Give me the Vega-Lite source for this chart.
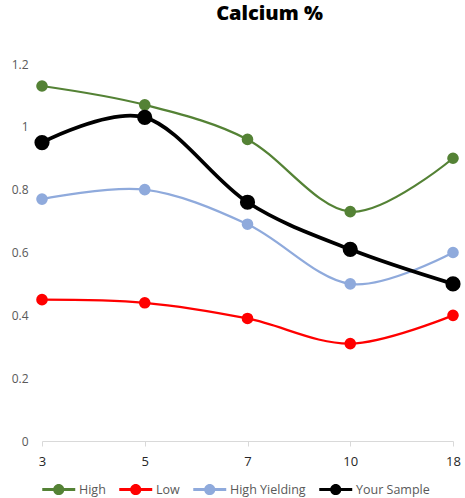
{
  "$schema": "https://vega.github.io/schema/vega-lite/v6.json",
  "width": 411,
  "height": 377,
  "autosize": {"type": "none"},
  "padding": {"left": 42, "top": 64, "right": 12, "bottom": 57},
  "background": "white",
  "title": {
    "text": "Calcium %",
    "font": "Open Sans",
    "fontSize": 20,
    "fontWeight": 800,
    "color": "#000000",
    "anchor": "middle",
    "dx": 22,
    "offset": 34
  },
  "config": {
    "view": {"stroke": null},
    "font": "Open Sans"
  },
  "data": {
    "values": [
      {"dap": "3", "series": "High", "value": 1.13},
      {"dap": "5", "series": "High", "value": 1.07},
      {"dap": "7", "series": "High", "value": 0.96},
      {"dap": "10", "series": "High", "value": 0.73},
      {"dap": "18", "series": "High", "value": 0.9},
      {"dap": "3", "series": "Low", "value": 0.45},
      {"dap": "5", "series": "Low", "value": 0.44},
      {"dap": "7", "series": "Low", "value": 0.39},
      {"dap": "10", "series": "Low", "value": 0.31},
      {"dap": "18", "series": "Low", "value": 0.4},
      {"dap": "3", "series": "High Yielding", "value": 0.77},
      {"dap": "5", "series": "High Yielding", "value": 0.8},
      {"dap": "7", "series": "High Yielding", "value": 0.69},
      {"dap": "10", "series": "High Yielding", "value": 0.5},
      {"dap": "18", "series": "High Yielding", "value": 0.6},
      {"dap": "3", "series": "Your Sample", "value": 0.95},
      {"dap": "5", "series": "Your Sample", "value": 1.03},
      {"dap": "7", "series": "Your Sample", "value": 0.76},
      {"dap": "10", "series": "Your Sample", "value": 0.61},
      {"dap": "18", "series": "Your Sample", "value": 0.5}
    ]
  },
  "encoding": {
    "x": {
      "field": "dap",
      "type": "ordinal",
      "sort": ["3", "5", "7", "10", "18"],
      "scale": {"type": "point", "padding": 0},
      "axis": {
        "title": null,
        "labelAngle": 0,
        "labelFontSize": 13,
        "labelColor": "#262626",
        "labelPadding": 9,
        "domainColor": "#d9d9d9",
        "tickColor": "#d9d9d9",
        "tickSize": 5,
        "grid": false
      }
    },
    "y": {
      "field": "value",
      "type": "quantitative",
      "scale": {"domain": [0, 1.2], "nice": false},
      "axis": {
        "title": null,
        "values": [0, 0.2, 0.4, 0.6, 0.8, 1, 1.2],
        "format": "~g",
        "grid": false,
        "domain": false,
        "ticks": false,
        "labelPadding": 14,
        "labelFontSize": 12,
        "labelColor": "#595959"
      }
    },
    "color": {
      "field": "series",
      "type": "nominal",
      "scale": {
        "domain": ["High", "Low", "High Yielding", "Your Sample"],
        "range": ["#548235", "#ff0000", "#8faadc", "#000000"]
      },
      "legend": {
        "title": null,
        "orient": "bottom",
        "direction": "horizontal",
        "offset": 13,
        "labelFontSize": 12.5,
        "labelColor": "#595959",
        "labelOffset": 20,
        "columnPadding": 13,
        "symbolSize": 272,
        "symbolStrokeWidth": 0,
        "symbolType": "M -1 -0.17 L 3 -0.17 L 3 0.17 L -1 0.17 Z M 1.68 0 A 0.68 0.68 0 1 1 0.32 0 A 0.68 0.68 0 1 1 1.68 0 Z",
        "encode": {
          "symbols": {
            "update": {
              "fill": {"scale": "color", "field": "value"},
              "fillOpacity": {"value": 1}
            }
          }
        }
      }
    }
  },
  "layer": [
    {
      "mark": {"type": "line", "interpolate": "cardinal", "clip": false},
      "encoding": {
        "strokeWidth": {
          "condition": {"test": "datum.series === 'Your Sample'", "value": 3.75},
          "value": 2.25
        }
      }
    },
    {
      "mark": {"type": "point", "filled": true, "opacity": 1, "shape": "circle", "clip": false},
      "encoding": {
        "size": {
          "condition": {"test": "datum.series === 'Your Sample'", "value": 230},
          "value": 135
        }
      }
    }
  ]
}
